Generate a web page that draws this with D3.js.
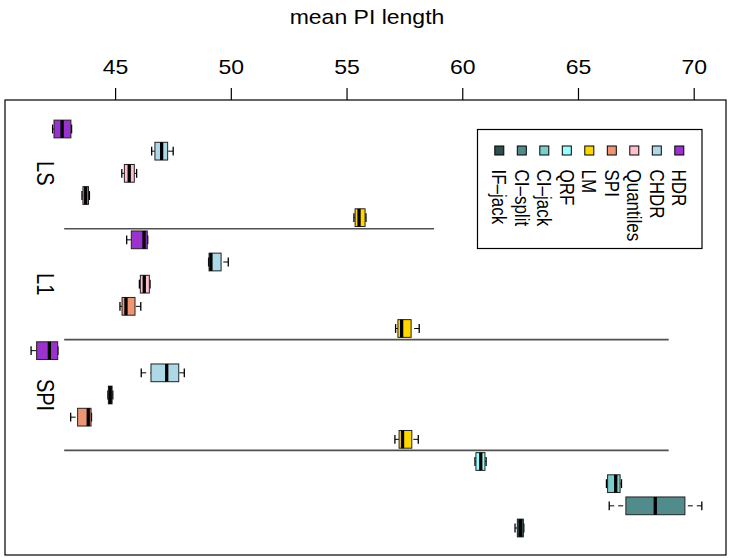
<!DOCTYPE html>
<html>
<head>
<meta charset="utf-8">
<script src="https://cdn.jsdelivr.net/npm/d3@7"></script>
<style>
  html, body { margin: 0; padding: 0; background: #fff; }
  svg text { font-family: "Liberation Sans", Arial, Helvetica, sans-serif; fill: #000; }
</style>
</head>
<body>
<svg id="chart" width="731" height="558"></svg>
<script>
// Mean prediction-interval length per method, grouped by conformity score.
const methodNames = ["HDR", "CHDR", "Quantiles", "SPI", "LM", "QRF", "CI–jack", "CI–split", "IF–jack"];
const methodColors = ["#9A32CD", "#ADD8E6", "#FFC0CB", "#EE9572", "#FFD700", "#97FFFF", "#79CDCD", "#528B8B", "#2F4F4F"];

// One entry per box, top to bottom
const rowMethod = ["HDR", "CHDR", "Quantiles", "SPI", "LM",
                   "HDR", "CHDR", "Quantiles", "SPI", "LM",
                   "HDR", "CHDR", "Quantiles", "SPI", "LM",
                   "QRF", "CI–jack", "CI–split", "IF–jack"];
const whiskerLow  = [42.30, 46.58, 45.29, 43.57, 55.32,  45.50, 49.04, 46.05, 45.21, 57.12,  41.37, 46.13, 44.69, 43.08, 57.09,  60.55, 66.23, 66.35, 62.28];
const quartileLow = [42.36, 46.72, 45.40, 43.61, 55.37,  45.70, 49.06, 46.09, 45.30, 57.22,  41.61, 46.55, 44.71, 43.38, 57.27,  60.59, 66.28, 67.07, 62.38];
const medianVal   = [42.71, 47.01, 45.61, 43.73, 55.54,  46.25, 49.14, 46.26, 45.47, 57.38,  42.16, 47.23, 44.79, 43.84, 57.42,  60.80, 66.63, 68.34, 62.51];
const quartileHigh= [43.09, 47.27, 45.83, 43.85, 55.80,  46.39, 49.58, 46.48, 45.86, 57.79,  42.52, 47.75, 44.87, 43.96, 57.82,  60.98, 66.82, 69.62, 62.64];
const whiskerHigh = [43.12, 47.51, 45.93, 43.89, 55.84,  46.41, 49.89, 46.51, 46.11, 58.14,  42.53, 47.99, 44.90, 43.98, 58.10,  61.03, 66.88, 70.35, 62.66];

// Score groups: label row and separator below each group
const groupLabels = ["LS", "L1", "SPI"];
const groupLabelRow = [3, 8, 13];
const separatorRow = [5.5, 10.5, 15.5];
const separatorFrom = [42.80, 42.80, 42.80];
const separatorTo = [58.78, 68.92, 68.92];

const axisTicks = [45, 50, 55, 60, 65, 70];
const legendOrder = ["IF–jack", "CI–split", "CI–jack", "QRF", "LM", "SPI", "Quantiles", "CHDR", "HDR"];
const axisTitle = "mean PI length";

const svg = d3.select("#chart");
const colorOf = d3.scaleOrdinal().domain(methodNames).range(methodColors);

const frame = { left: 5, top: 100, right: 726, bottom: 555 };
const x = d3.scaleLinear().domain([45, 70]).range([115.1, 693.7]);
const y = d3.scaleLinear().domain([1, 19]).range([129, 528]);
const halfBox = (y(2) - y(1)) * 0.4;
const halfStaple = halfBox * 0.5;
const textStretch = 1.15;

const rows = rowMethod.map((m, i) => ({
  method: m, pos: i + 1,
  lo: whiskerLow[i], q1: quartileLow[i], med: medianVal[i], q3: quartileHigh[i], hi: whiskerHigh[i]
}));

// group separators
const seps = separatorRow.map((r, i) => ({ r, a: separatorFrom[i], b: separatorTo[i] }));
svg.append("g").selectAll("line").data(seps).join("line")
  .attr("x1", d => x(d.a)).attr("x2", d => x(d.b))
  .attr("y1", d => y(d.r)).attr("y2", d => y(d.r))
  .attr("stroke", "#505050").attr("stroke-width", 1.6);

// boxplots
const box = svg.append("g").selectAll("g").data(rows).join("g");
// dashed whiskers, drawn from whisker end toward the hinge
box.append("line")
  .attr("x1", d => x(d.lo)).attr("x2", d => x(d.q1))
  .attr("y1", d => y(d.pos)).attr("y2", d => y(d.pos))
  .attr("stroke", "#000").attr("stroke-width", 1).attr("stroke-dasharray", "5,4");
box.append("line")
  .attr("x1", d => x(d.hi)).attr("x2", d => x(d.q3))
  .attr("y1", d => y(d.pos)).attr("y2", d => y(d.pos))
  .attr("stroke", "#000").attr("stroke-width", 1).attr("stroke-dasharray", "5,4");
// staples
box.selectAll("line.staple").data(d => [d.lo, d.hi].map(v => ({ v, pos: d.pos }))).join("line")
  .attr("class", "staple")
  .attr("x1", s => x(s.v)).attr("x2", s => x(s.v))
  .attr("y1", s => y(s.pos) - halfStaple).attr("y2", s => y(s.pos) + halfStaple)
  .attr("stroke", "#000").attr("stroke-width", 1.3);
// boxes
box.append("rect")
  .attr("x", d => x(d.q1)).attr("width", d => x(d.q3) - x(d.q1))
  .attr("y", d => y(d.pos) - halfBox).attr("height", halfBox * 2)
  .attr("fill", d => colorOf(d.method))
  .attr("stroke", "#222").attr("stroke-width", 1);
// medians
box.append("line")
  .attr("x1", d => x(d.med)).attr("x2", d => x(d.med))
  .attr("y1", d => y(d.pos) - halfBox).attr("y2", d => y(d.pos) + halfBox)
  .attr("stroke", "#000").attr("stroke-width", 3.3);

// frame
svg.append("rect")
  .attr("x", frame.left).attr("y", frame.top)
  .attr("width", frame.right - frame.left).attr("height", frame.bottom - frame.top)
  .attr("fill", "none").attr("stroke", "#000").attr("stroke-width", 1.2);

// top axis
const axisG = svg.append("g").attr("transform", `translate(0,${frame.top})`)
  .call(d3.axisTop(x).tickValues(axisTicks).tickSize(12).tickFormat(d3.format("d")));
axisG.select(".domain").remove();
axisG.selectAll(".tick line").attr("stroke", "#000").attr("stroke-width", 1.2);
axisG.selectAll(".tick text").remove();
axisG.selectAll(".tick").append("text")
  .attr("transform", `translate(0,-33) scale(${textStretch},1)`)
  .attr("text-anchor", "middle").attr("dy", "0.35em")
  .attr("font-size", 20)
  .text(d => d3.format("d")(d));

svg.append("text")
  .attr("transform", `translate(367,17) scale(${textStretch},1)`)
  .attr("text-anchor", "middle").attr("dy", "0.35em")
  .attr("font-size", 20)
  .text(axisTitle);

// group labels, rotated
svg.append("g").selectAll("text").data(groupLabels).join("text")
  .attr("transform", (d, i) => `translate(45,${y(groupLabelRow[i])}) scale(${textStretch},1) rotate(90)`)
  .attr("text-anchor", "middle").attr("dy", "0.35em")
  .attr("font-size", 20)
  .text(d => d);

// legend
const legend = { left: 477.5, top: 129.5, right: 702, bottom: 248.5, firstX: 499.3, step: 22.5, keyY: 150.5, key: 9, textY: 169.5 };
svg.append("rect")
  .attr("x", legend.left).attr("y", legend.top)
  .attr("width", legend.right - legend.left).attr("height", legend.bottom - legend.top)
  .attr("fill", "#fff").attr("stroke", "#000").attr("stroke-width", 1.2);
const lg = svg.append("g").selectAll("g").data(legendOrder).join("g")
  .attr("transform", (d, i) => `translate(${legend.firstX + i * legend.step},0)`);
lg.append("rect")
  .attr("x", -legend.key / 2).attr("y", legend.keyY - legend.key / 2)
  .attr("width", legend.key).attr("height", legend.key)
  .attr("fill", d => colorOf(d)).attr("stroke", "#000").attr("stroke-width", 1);
lg.append("text")
  .attr("transform", `translate(0,${legend.textY}) scale(${textStretch},1) rotate(90)`)
  .attr("text-anchor", "start").attr("dy", "0.35em")
  .attr("font-size", 17)
  .text(d => d);
</script>
</body>
</html>
